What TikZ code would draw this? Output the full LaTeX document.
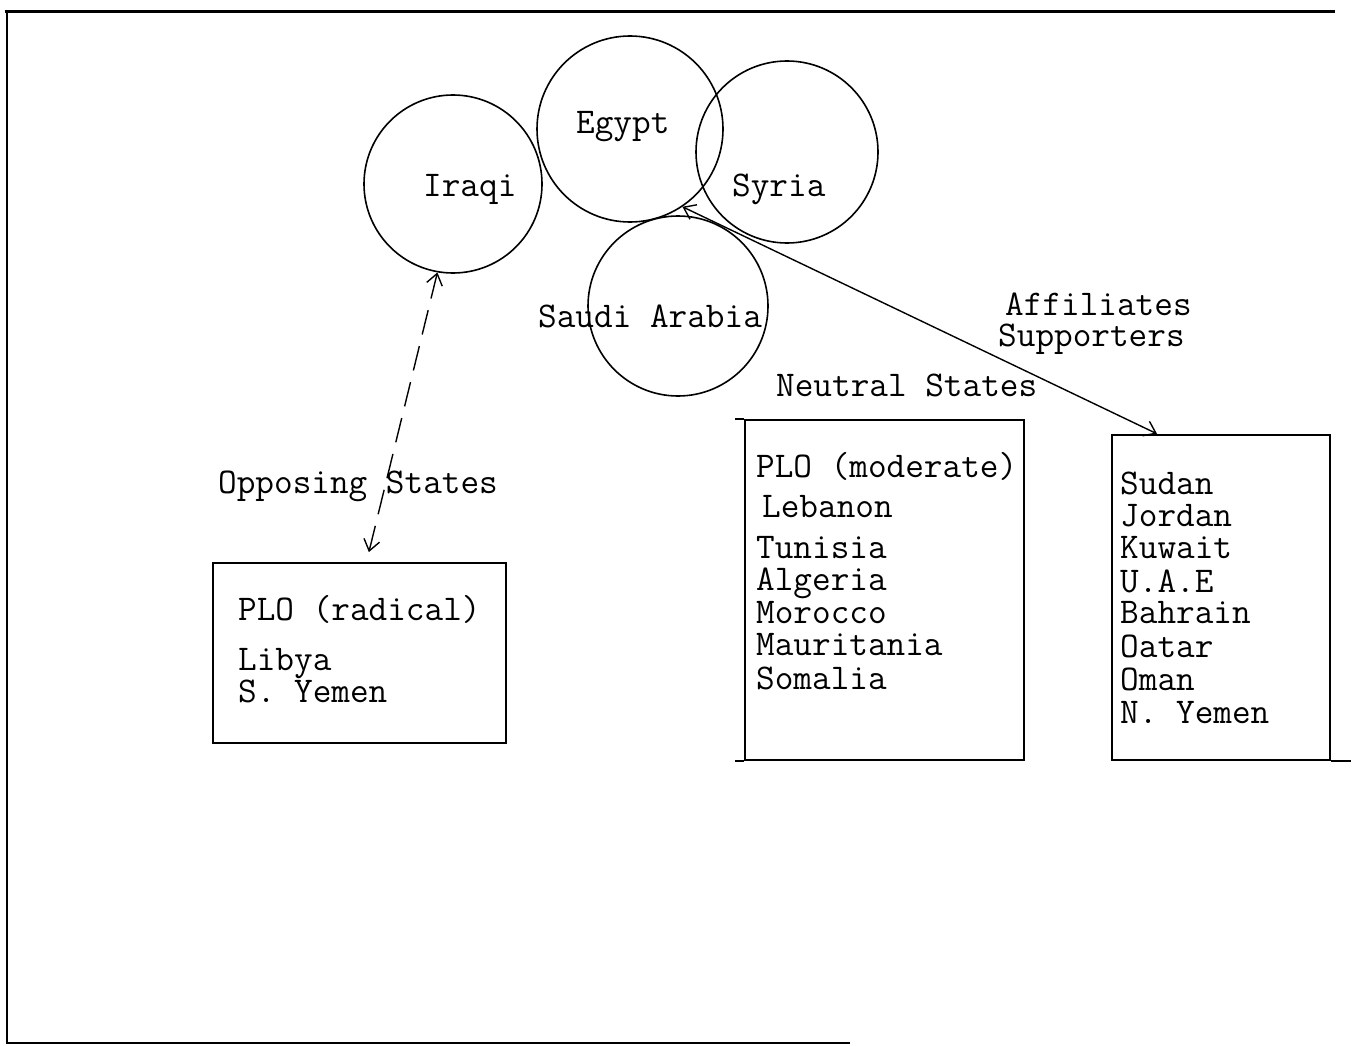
\documentclass[tikz,border=0pt]{standalone}
\usetikzlibrary{arrows.meta}
\begin{document}
\begin{tikzpicture}[x=1pt,y=-1pt,
  lbl/.style={anchor=base west, inner sep=0pt, align=left, font=\ttfamily\fontsize{36.2}{32.5}\selectfont},
  ring/.style={draw, circle, line width=1.6pt, inner sep=0pt},
  boxnode/.style={draw, rectangle, line width=2.4pt, inner sep=0pt},
  tipv/.tip={Straight Barb[length=11pt,width=16pt,line width=1.4pt]},
  conn/.style={line width=1.4pt, tipv-tipv}]
\useasboundingbox (0,0) rectangle (1362,1046);
% frame
\draw[line width=3pt] (5,12) -- (1335,12);
\draw[line width=2pt] (7,12) -- (7,1043) -- (850,1043);
% circles
\node[ring, minimum size=178pt] (iraq) at (453,184) {};
\node[ring, minimum size=186pt] (egypt) at (630,129) {};
\node[ring, minimum size=182pt] (syria) at (787,152) {};
\node[ring, minimum size=180pt] (saudi) at (678,306) {};
\node[lbl] (iraqlbl) at (423,196) {Iraqi};
\node[lbl] (egyptlbl) at (576,133) {Egypt};
\node[lbl] (syrialbl) at (732,196) {Syria};
\node[lbl] (saudilbl) at (538,327) {Saudi Arabia};
% headings
\node[lbl] (opp) at (218,493) {Opposing States};
\node[lbl] (neut) at (776,396) {Neutral States};
\node[lbl] (affil) at (998,346) {\hspace*{7pt}Affiliates\\[-1.5pt]Supporters};
% boxes
\node[boxnode, minimum width=293pt, minimum height=180pt] (leftbox) at (359.5,653) {};
\node[boxnode, minimum width=279pt, minimum height=340pt] (neutbox) at (884.5,590) {};
\node[boxnode, minimum width=218pt, minimum height=325pt] (rightbox) at (1221,597.5) {};
\draw[line width=2.4pt] ([xshift=-9pt]neutbox.north west) -- (neutbox.north west);
\draw[line width=2.4pt] ([xshift=-9pt]neutbox.south west) -- (neutbox.south west);
\draw[line width=2.4pt] (rightbox.south east) -- ++(20,0);
% box lists (base anchor = baseline of last line)
\node[lbl] (leftlist) at (238,702) {PLO (radical)\\[17.5pt]Libya\\[-0.5pt]S. Yemen};
\node[lbl] (neutlist) at (756,689) {PLO (moderate)\\[7.5pt]\hspace*{6pt}Lebanon\\[8.5pt]Tunisia\\[-0.5pt]Algeria\\[0.5pt]Morocco\\[-0.5pt]Mauritania\\[1.5pt]Somalia};
\node[lbl] (rightlist) at (1120,723) {Sudan\\[-0.5pt]Jordan\\[-0.5pt]Kuwait\\[1.5pt]U.A.E\\[-1.5pt]Bahrain\\[1.5pt]Oatar\\[0.5pt]Oman\\[0.5pt]N. Yemen};
% connectors
\draw[conn, dash pattern=on 25pt off 12pt] (iraq.-100) -- ([xshift=7pt]leftbox.north) [shorten >=10pt];
\draw[conn] (egypt.-56) -- ([xshift=-64pt]rightbox.north);
\end{tikzpicture}
\end{document}
